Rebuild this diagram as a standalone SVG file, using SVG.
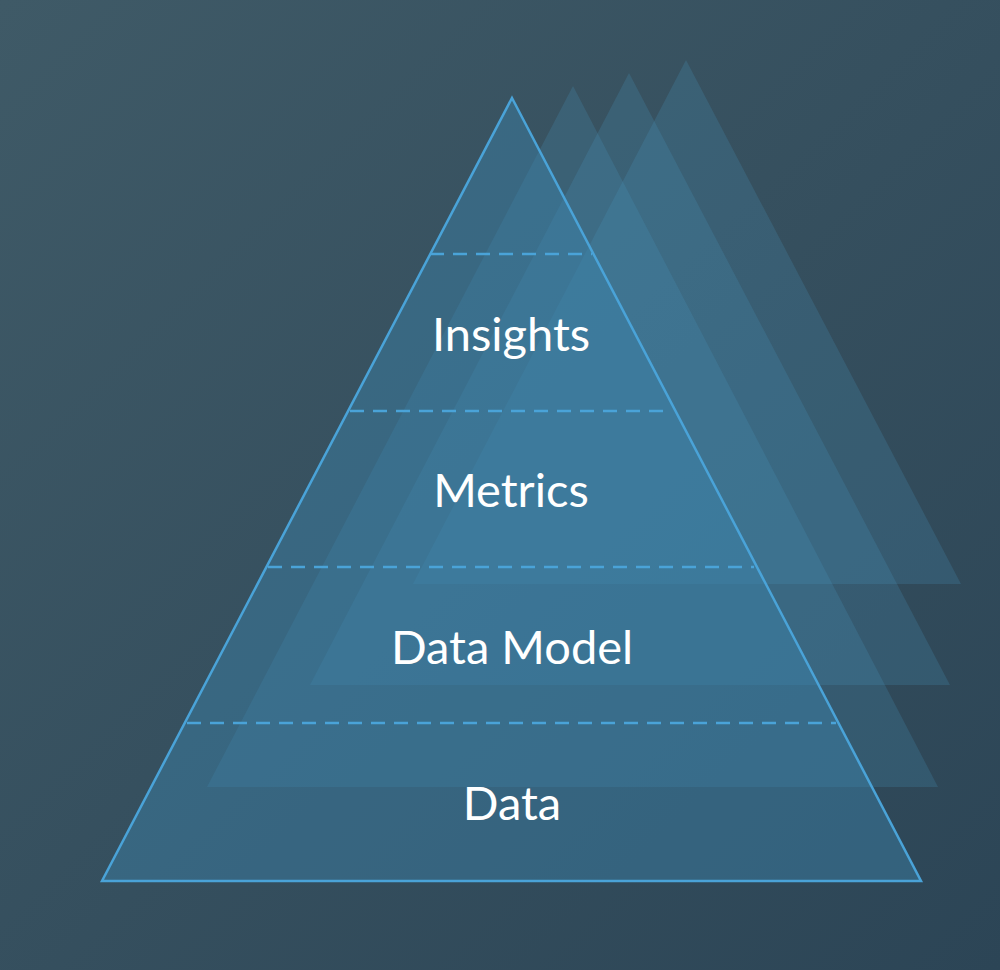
<svg xmlns="http://www.w3.org/2000/svg" width="1000" height="970" viewBox="0 0 1000 970">
<defs>
<linearGradient id="bg" x1="0" y1="0" x2="1" y2="1">
<stop offset="0" stop-color="#3f5a67"/>
<stop offset="1" stop-color="#2c4556"/>
</linearGradient>
<style>
.back{fill:#4a94be;fill-opacity:0.22}
.dash{stroke:#4aa3d8;stroke-width:2.5;stroke-dasharray:14 9;fill:none}
.lbl{font-family:Lato,"Open Sans",sans-serif;font-size:47px;fill:#ffffff;text-anchor:middle}
</style>
</defs>
<rect width="1000" height="970" fill="url(#bg)"/>
<g id="back-triangles">
<polygon class="back" points="686,60 961,584 413,584"/>
<polygon class="back" points="629,73 950,685 310,685"/>
<polygon class="back" points="573,86 938,787 207,787"/>
</g>
<g id="pyramid">
<polygon points="512,98 921,881 102,881" fill="#3b82aa" fill-opacity="0.45" stroke="#4aa3d8" stroke-width="2.5"/>
</g>
<g id="connectors">
<line class="dash" x1="430" y1="254" x2="592" y2="254"/>
<line class="dash" x1="350" y1="411" x2="672" y2="411"/>
<line class="dash" x1="268" y1="567" x2="754" y2="567"/>
<line class="dash" x1="187" y1="723" x2="836" y2="723"/>
</g>
<g id="insights"><text class="lbl" x="511" y="351">Insights</text></g>
<g id="metrics"><text class="lbl" x="511" y="507">Metrics</text></g>
<g id="data-model"><text class="lbl" x="512" y="664">Data Model</text></g>
<g id="data"><text class="lbl" x="512" y="820">Data</text></g>
</svg>
